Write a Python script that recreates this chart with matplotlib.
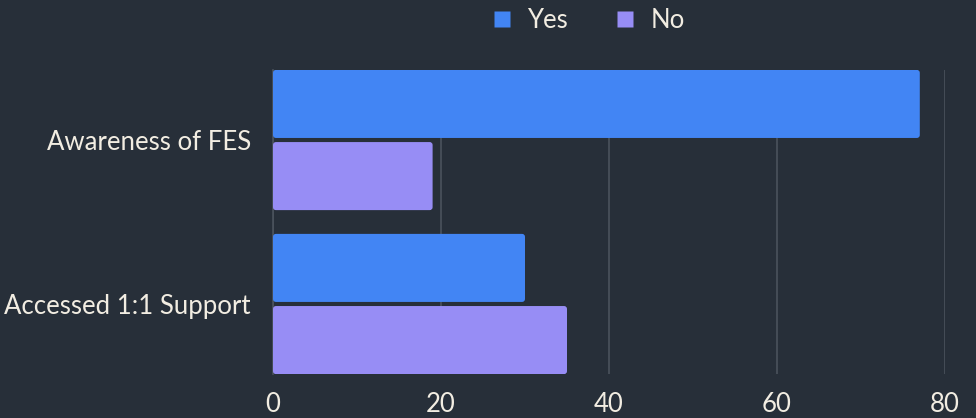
import matplotlib.pyplot as plt
from matplotlib.patches import FancyBboxPatch
from matplotlib.lines import Line2D

categories = ["Awareness of FES", "Accessed 1:1 Support"]
yes_values = [77, 30]
no_values = [19, 35]
x_ticks = [0, 20, 40, 60, 80]

bg = "#272f39"
text_col = "#f2ede2"
grid_col = "#4b535d"
yes_col = "#4285f4"
no_col = "#978df5"

plt.rcParams["font.family"] = ["Lato", "DejaVu Sans"]

fig = plt.figure(figsize=(9.76, 4.18), dpi=100, facecolor=bg)
ax = fig.add_axes([273 / 976, 1 - 374 / 418, 672 / 976, 304 / 418])
ax.set_facecolor(bg)

h = 0.415
off = 0.22
pos = list(range(len(categories)))


def rounded_barh(ys, vals, color):
    bars = ax.barh(ys, vals, height=h, color=color, alpha=0)
    for b in bars:
        x0, y0 = b.get_x(), b.get_y()
        w, bh = b.get_width(), b.get_height()
        # small rounded corners; aspect converts x units to y units
        r = 0.35
        patch = FancyBboxPatch((x0, y0), w, bh,
                               boxstyle=f"round,pad=0,rounding_size={r}",
                               mutation_aspect=(1 / 164) / (1 / 8.4),
                               fc=color, ec="none", zorder=3, clip_on=True)
        ax.add_patch(patch)
    return bars


rounded_barh([p - off for p in pos], yes_values, yes_col)
rounded_barh([p + off for p in pos], no_values, no_col)

ax.set_xlim(0, 80)
ax.set_ylim(1.427, -0.427)
ax.set_xticks(x_ticks)
ax.set_yticks(pos)
ax.set_yticklabels(categories)
ax.tick_params(axis="both", length=0, colors=text_col, labelsize=18.5)
ax.tick_params(axis="y", pad=16)
ax.tick_params(axis="x", pad=13)
ax.xaxis.grid(True, color=grid_col, linewidth=1.2)
ax.set_axisbelow(True)
for s in ["top", "right", "bottom"]:
    ax.spines[s].set_visible(False)
ax.spines["left"].set_color(grid_col)
ax.spines["left"].set_linewidth(1.2)

handles = [Line2D([], [], marker="s", linestyle="none", markersize=11,
                  markerfacecolor=yes_col, markeredgecolor="none"),
           Line2D([], [], marker="s", linestyle="none", markersize=11,
                  markerfacecolor=no_col, markeredgecolor="none")]
fig.legend(handles, ["Yes", "No"], loc="center", bbox_to_anchor=(0.601, 0.952),
           ncol=2, frameon=False, fontsize=18.5, labelcolor=text_col,
           handletextpad=0.5, columnspacing=1.7, handlelength=1.0)

fig.savefig("out.png", dpi=100, facecolor=bg)
